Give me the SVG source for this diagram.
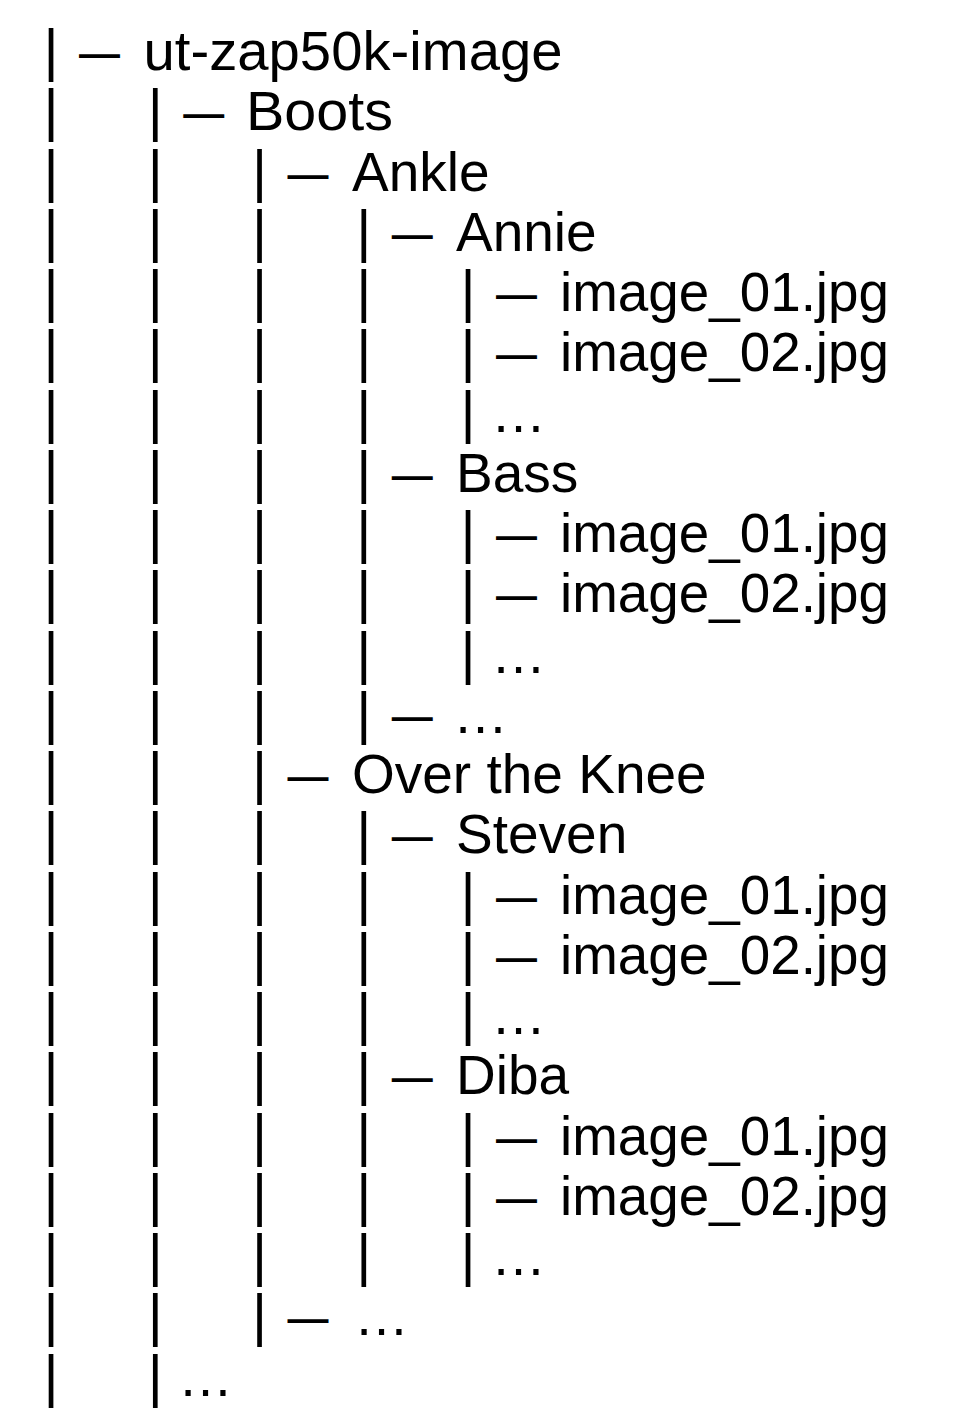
<svg xmlns="http://www.w3.org/2000/svg" width="958" height="1428" viewBox="0 0 958 1428">
<style>
text{font-family:"Liberation Sans",Arial,Helvetica,sans-serif;fill:#000}
.lbl{font-size:55px}
.bar{font-size:58px;text-anchor:middle}
.dash{font-size:55px}
.ell{font-size:55px}
</style>
<rect width="958" height="1428" fill="#fff"/>
<g id="connectors">
<text class="bar" x="51" y="70">|</text>
<text class="bar" x="51 155.25" y="130.25">||</text>
<text class="bar" x="51 155.25 259.5" y="190.5">|||</text>
<text class="bar" x="51 155.25 259.5 363.75" y="250.75">||||</text>
<text class="bar" x="51 155.25 259.5 363.75 468" y="311">|||||</text>
<text class="bar" x="51 155.25 259.5 363.75 468" y="371.25">|||||</text>
<text class="bar" x="51 155.25 259.5 363.75 468" y="431.5">|||||</text>
<text class="bar" x="51 155.25 259.5 363.75" y="491.75">||||</text>
<text class="bar" x="51 155.25 259.5 363.75 468" y="552">|||||</text>
<text class="bar" x="51 155.25 259.5 363.75 468" y="612.25">|||||</text>
<text class="bar" x="51 155.25 259.5 363.75 468" y="672.5">|||||</text>
<text class="bar" x="51 155.25 259.5 363.75" y="732.75">||||</text>
<text class="bar" x="51 155.25 259.5" y="793">|||</text>
<text class="bar" x="51 155.25 259.5 363.75" y="853.25">||||</text>
<text class="bar" x="51 155.25 259.5 363.75 468" y="913.5">|||||</text>
<text class="bar" x="51 155.25 259.5 363.75 468" y="973.75">|||||</text>
<text class="bar" x="51 155.25 259.5 363.75 468" y="1034">|||||</text>
<text class="bar" x="51 155.25 259.5 363.75" y="1094.25">||||</text>
<text class="bar" x="51 155.25 259.5 363.75 468" y="1154.5">|||||</text>
<text class="bar" x="51 155.25 259.5 363.75 468" y="1214.75">|||||</text>
<text class="bar" x="51 155.25 259.5 363.75 468" y="1275">|||||</text>
<text class="bar" x="51 155.25 259.5" y="1335.25">|||</text>
<text class="bar" x="51 155.25" y="1395.5">||</text>
<text class="dash" x="79" y="70" textLength="41" lengthAdjust="spacingAndGlyphs">—</text>
<text class="dash" x="183.25" y="130.25" textLength="41" lengthAdjust="spacingAndGlyphs">—</text>
<text class="dash" x="287.5" y="190.5" textLength="41" lengthAdjust="spacingAndGlyphs">—</text>
<text class="dash" x="391.75" y="250.75" textLength="41" lengthAdjust="spacingAndGlyphs">—</text>
<text class="dash" x="496" y="311" textLength="41" lengthAdjust="spacingAndGlyphs">—</text>
<text class="dash" x="496" y="371.25" textLength="41" lengthAdjust="spacingAndGlyphs">—</text>
<text class="dash" x="391.75" y="491.75" textLength="41" lengthAdjust="spacingAndGlyphs">—</text>
<text class="dash" x="496" y="552" textLength="41" lengthAdjust="spacingAndGlyphs">—</text>
<text class="dash" x="496" y="612.25" textLength="41" lengthAdjust="spacingAndGlyphs">—</text>
<text class="dash" x="391.75" y="732.75" textLength="41" lengthAdjust="spacingAndGlyphs">—</text>
<text class="dash" x="287.5" y="793" textLength="41" lengthAdjust="spacingAndGlyphs">—</text>
<text class="dash" x="391.75" y="853.25" textLength="41" lengthAdjust="spacingAndGlyphs">—</text>
<text class="dash" x="496" y="913.5" textLength="41" lengthAdjust="spacingAndGlyphs">—</text>
<text class="dash" x="496" y="973.75" textLength="41" lengthAdjust="spacingAndGlyphs">—</text>
<text class="dash" x="391.75" y="1094.25" textLength="41" lengthAdjust="spacingAndGlyphs">—</text>
<text class="dash" x="496" y="1154.5" textLength="41" lengthAdjust="spacingAndGlyphs">—</text>
<text class="dash" x="496" y="1214.75" textLength="41" lengthAdjust="spacingAndGlyphs">—</text>
<text class="dash" x="287.5" y="1335.25" textLength="41" lengthAdjust="spacingAndGlyphs">—</text>
</g>
<g id="root"><text class="lbl" x="143.5" y="70" textLength="419" lengthAdjust="spacingAndGlyphs">ut-zap50k-image</text></g>
<g id="boots"><text class="lbl" x="246" y="130.25" textLength="147" lengthAdjust="spacingAndGlyphs">Boots</text></g>
<g id="ankle"><text class="lbl" x="352" y="190.5">Ankle</text></g>
<g id="annie"><text class="lbl" x="456" y="250.75">Annie</text></g>
<g id="annie-img1"><text class="lbl" x="560" y="311" textLength="329" lengthAdjust="spacingAndGlyphs">image_01.jpg</text></g>
<g id="annie-img2"><text class="lbl" x="560" y="371.25" textLength="329" lengthAdjust="spacingAndGlyphs">image_02.jpg</text></g>
<g id="annie-more"><text class="ell" x="491" y="431.5">…</text></g>
<g id="bass"><text class="lbl" x="456" y="491.75">Bass</text></g>
<g id="bass-img1"><text class="lbl" x="560" y="552" textLength="329" lengthAdjust="spacingAndGlyphs">image_01.jpg</text></g>
<g id="bass-img2"><text class="lbl" x="560" y="612.25" textLength="329" lengthAdjust="spacingAndGlyphs">image_02.jpg</text></g>
<g id="bass-more"><text class="ell" x="491" y="672.5">…</text></g>
<g id="ankle-more"><text class="ell" x="453" y="732.75">…</text></g>
<g id="over-the-knee"><text class="lbl" x="352" y="793">Over the Knee</text></g>
<g id="steven"><text class="lbl" x="456" y="853.25">Steven</text></g>
<g id="steven-img1"><text class="lbl" x="560" y="913.5" textLength="329" lengthAdjust="spacingAndGlyphs">image_01.jpg</text></g>
<g id="steven-img2"><text class="lbl" x="560" y="973.75" textLength="329" lengthAdjust="spacingAndGlyphs">image_02.jpg</text></g>
<g id="steven-more"><text class="ell" x="491" y="1034">…</text></g>
<g id="diba"><text class="lbl" x="456" y="1094.25">Diba</text></g>
<g id="diba-img1"><text class="lbl" x="560" y="1154.5" textLength="329" lengthAdjust="spacingAndGlyphs">image_01.jpg</text></g>
<g id="diba-img2"><text class="lbl" x="560" y="1214.75" textLength="329" lengthAdjust="spacingAndGlyphs">image_02.jpg</text></g>
<g id="diba-more"><text class="ell" x="491" y="1275">…</text></g>
<g id="boots-more"><text class="ell" x="354" y="1335.25">…</text></g>
<g id="root-more"><text class="ell" x="178" y="1395.5">…</text></g>
</svg>
